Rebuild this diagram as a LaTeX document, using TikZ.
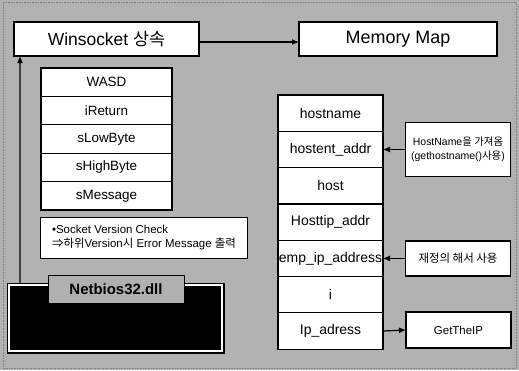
\documentclass[tikz,border=0pt]{standalone}
\usepackage{fontspec}
\setmainfont{Liberation Sans}
\newfontfamily\kr{Noto Sans CJK KR}
\usetikzlibrary{arrows.meta}
\definecolor{bgc}{HTML}{B2B2B2}
\definecolor{lblc}{HTML}{B0B0B0}
\begin{document}
\begin{tikzpicture}[x=1bp,y=-1bp,
  box/.style={draw=black,fill=white,line width=1.2bp,inner sep=0pt,outer sep=0pt,align=center},
  lrow/.style={box,minimum width=131bp,minimum height=28.4bp,font=\fontsize{13.5}{15}\selectfont},
  rrow/.style={box,minimum width=105bp,minimum height=36.3bp,font=\fontsize{14}{16}\selectfont},
  sbox/.style={box,minimum width=105bp,font=\fontsize{11}{13}\selectfont},
  arr/.style={line width=1.2bp,-{Latex[length=7bp,width=6bp]}}]
\useasboundingbox (0,0) rectangle (519,370);
\fill[bgc] (0,0) rectangle (519,370);
\draw[gray,line width=0.6bp,densely dotted] (3,2) rectangle (516,368);
% top boxes
\node[box,minimum width=185bp,minimum height=34bp,font=\fontsize{17.5}{20}\selectfont] (win) at (106.5,39) {Winsocket {\kr 상속}};
\node[box,minimum width=198bp,minimum height=34bp,font=\fontsize{18}{20}\selectfont] (mm) at (398,39) {Memory Map};
\draw[arr] ([yshift=-3bp]win.east) -- ([yshift=-3bp]mm.west);
% left stack
\node[lrow] (wasd) at (106.5,82.2) {WASD};
\node[lrow] (iret) at (106.5,110.6) {iReturn};
\node[lrow] (slow) at (106.5,139) {sLowByte};
\node[lrow] (shigh) at (106.5,167.4) {sHighByte};
\node[lrow] (smsg) at (106.5,195.8) {sMessage};
% note
\node[box,line width=1bp,minimum width=206bp,minimum height=41bp,align=left,font=\fontsize{11.5}{14}\selectfont] (note) at (144,237.5)
  {•Socket Version Check\\{\kr ⇒하위}Version{\kr 시} Error Message {\kr 출력}};
% black box
\node[draw=black,line width=0.8bp,fill=black,minimum width=217bp,minimum height=70bp,inner sep=0pt,outer sep=0pt] (bb) at (115.5,318) {};
\draw[white,line width=1.2bp] ([xshift=2bp,yshift=-2bp]bb.north west) rectangle ([xshift=-2bp,yshift=2bp]bb.south east);
\node[draw=black,line width=1bp,fill=lblc,minimum width=136bp,minimum height=28bp,inner sep=0pt,
  font=\fontsize{15}{16}\selectfont\bfseries] (nb) at (116,289) {Netbios32.dll};
\draw[arr] ([xshift=13bp]bb.north west) -- ([xshift=6bp]win.south west);
% right stack
\node[rrow] (hn) at (330.5,113.2) {hostname};
\node[rrow] (hea) at (330.5,149.5) {hostent\_addr};
\node[rrow] (host) at (330.5,185.8) {host};
\node[rrow] (hta) at (330.5,222.1) {Hosttip\_addr};
\node[rrow] (eia) at (330.5,258.4) {emp\_ip\_address};
\node[rrow] (ii) at (330.5,294.7) {i};
\node[rrow] (ipa) at (330.5,331) {Ip\_adress};
% right boxes
\node[sbox,minimum height=54bp,font=\fontsize{10.5}{14}\selectfont] (hnb) at (458,149.5) {HostName{\kr 을 가져옴}\\(gethostname(){\kr 사용})};
\node[sbox,minimum height=35bp,font=\fontsize{11.5}{13}\selectfont\kr] (redef) at (458,258.4) {재정의 해서 사용};
\node[sbox,minimum height=36bp,font=\fontsize{11.5}{13}\selectfont] (gip) at (458.5,330) {GetTheIP};
\draw[arr] (hnb.west) -- (hea.east);
\draw[arr] (redef.west) -- (eia.east);
\draw[arr] (ipa.east) -- (gip.west);
\end{tikzpicture}
\end{document}
